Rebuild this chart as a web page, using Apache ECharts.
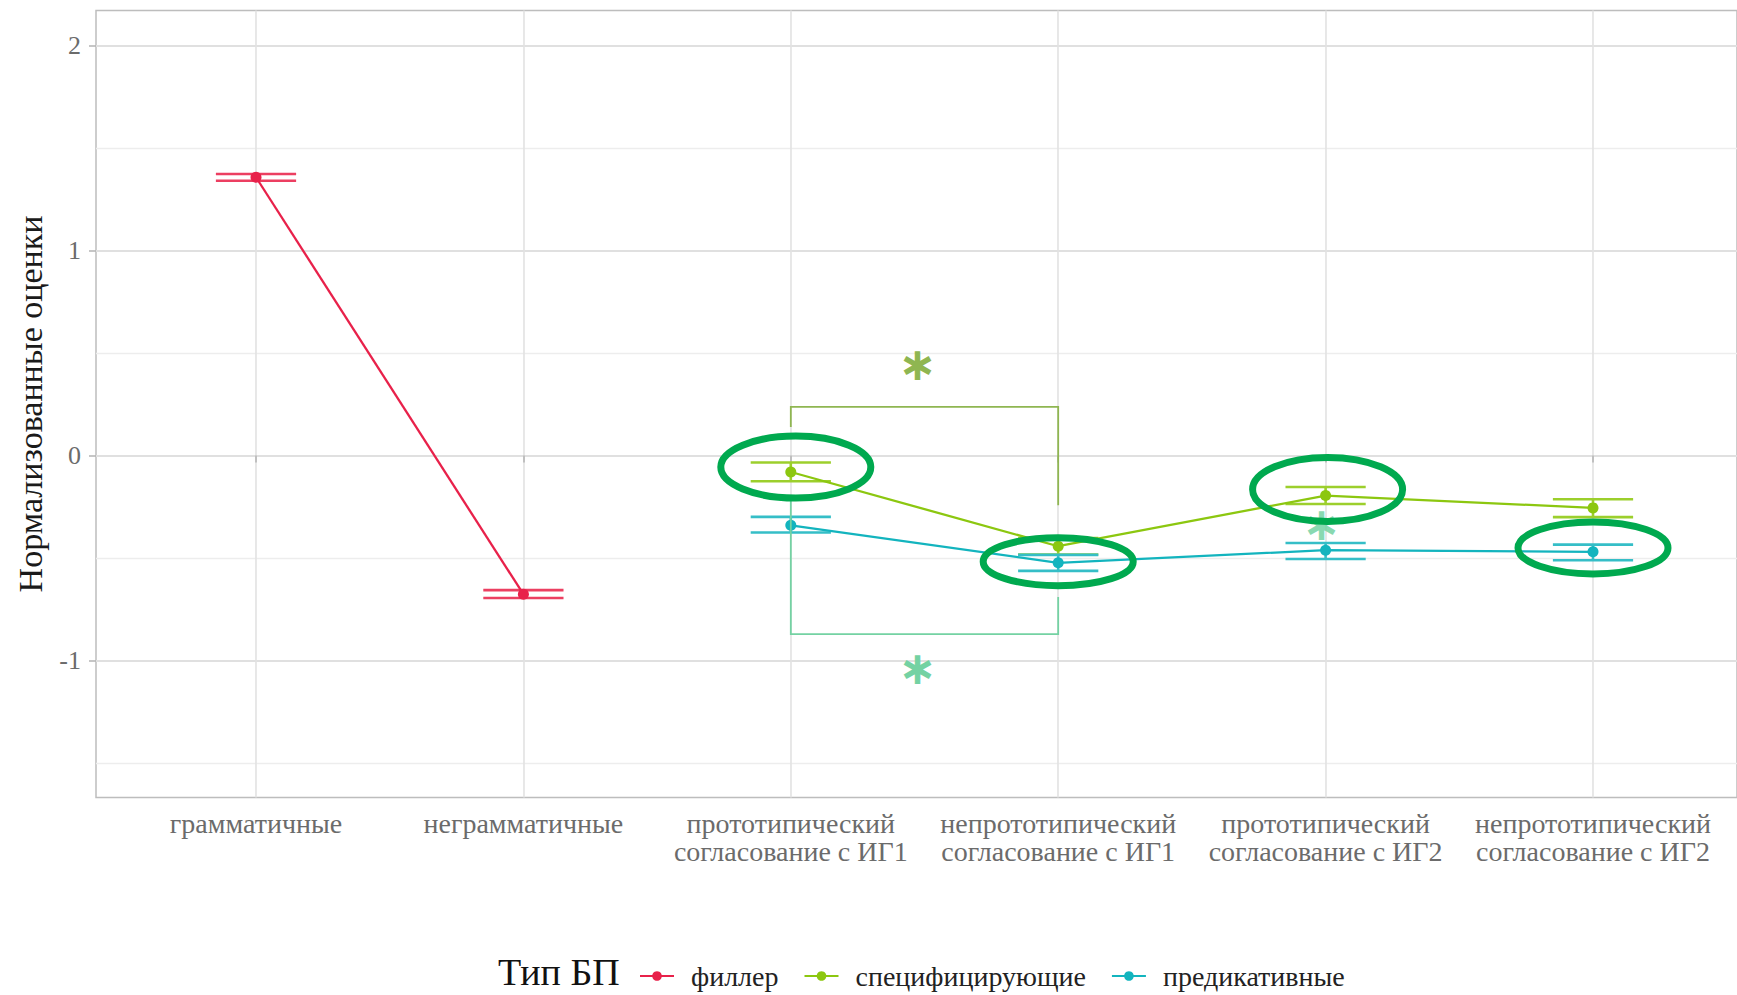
<!DOCTYPE html>
<html>
<head>
<meta charset="utf-8">
<script src="https://cdn.jsdelivr.net/npm/echarts@6/dist/echarts.min.js"></script>
<style>
  html, body { margin: 0; padding: 0; background: #ffffff; }
  #chart { width: 1737px; height: 995px; }
</style>
</head>
<body>
<div id="chart"></div>
<script>
// Conditions on the x axis
const categories = [
  'грамматичные',
  'неграмматичные',
  'прототипический\nсогласование с ИГ1',
  'непрототипический\nсогласование с ИГ1',
  'прототипический\nсогласование с ИГ2',
  'непрототипический\nсогласование с ИГ2'
];

// Sentence types (legend)
const typeNames = ['филлер', 'специфицирующие', 'предикативные'];

// Mean normalised ratings and error-bar bounds per condition
const fillerMean = [1.357, -0.676, null, null, null, null];
const fillerLow  = [1.340, -0.694, null, null, null, null];
const fillerHigh = [1.373, -0.656, null, null, null, null];

const specMean = [null, null, -0.080, -0.442, -0.195, -0.255];
const specLow  = [null, null, -0.125, -0.482, -0.236, -0.300];
const specHigh = [null, null, -0.034, -0.402, -0.153, -0.213];

const predMean = [null, null, -0.340, -0.523, -0.461, -0.469];
const predLow  = [null, null, -0.375, -0.562, -0.504, -0.510];
const predHigh = [null, null, -0.299, -0.484, -0.426, -0.434];

// Y axis ticks
const yMajorTicks = [-1, 0, 1, 2];
const yMinorTicks = [-1.5, -0.5, 0.5, 1.5];
const yLimits = [-1.667, 2.170];

// Significance brackets: [from category, to category, bar level, from-tip end, to-tip end, star level]
const specBracket = [2, 3, 0.237, 0.139, -0.242, 0.445];
const predBracket = [2, 3, -0.870, -0.200, -0.689, -1.036];
// Extra star: [category, level]
const predStar = [4, -0.335];

// Highlighted points: [category, level]
const highlights = [[2, -0.056], [3, -0.517], [4, -0.165], [5, -0.450]];

// ---------------------------------------------------------------------------
const FONT = '"Liberation Serif", "DejaVu Serif", serif';
const COLORS = ['#E8214A', '#8CC710', '#13B4BE'];
const BAR_COLORS = ['#EC3F61', '#9CCF2C', '#35BEC7'];
const SPEC_SIG = '#8FB651';
const PRED_SIG = '#74D2A3';
const RING = '#00A94F';
// ring radii and horizontal nudge in pixels
const RING_RADII = [[75, 31], [75, 24], [75, 32], [75, 26]];
const RING_NUDGE = [5, 0, 2, 0];

function pad(arr) { return arr.map(v => (v == null ? '-' : v)); }

function barData(low, high) {
  const out = [];
  low.forEach((lo, i) => { if (lo != null) out.push([i, lo, high[i]]); });
  return out;
}

function errorbarRenderer(color) {
  return function (params, api) {
    const i = api.value(0);
    const lo = api.coord([i, api.value(1)]);
    const hi = api.coord([i, api.value(2)]);
    const step = api.coord([1, 0])[0] - api.coord([0, 0])[0];
    const hw = step * 0.15;
    const st = { stroke: color, lineWidth: 2.6 };
    return {
      type: 'group',
      children: [
        { type: 'line', shape: { x1: lo[0], y1: lo[1], x2: hi[0], y2: hi[1] }, style: st },
        { type: 'line', shape: { x1: lo[0] - hw, y1: lo[1], x2: lo[0] + hw, y2: lo[1] }, style: st },
        { type: 'line', shape: { x1: hi[0] - hw, y1: hi[1], x2: hi[0] + hw, y2: hi[1] }, style: st }
      ]
    };
  };
}

function bracketRenderer(params, api) {
  const from = api.value(0), to = api.value(1);
  const level = api.value(2), fromEnd = api.value(3), toEnd = api.value(4), star = api.value(5);
  const color = params.dataIndex === 0 ? SPEC_SIG : PRED_SIG;
  const a = api.coord([from, fromEnd]);
  const b = api.coord([from, level]);
  const c = api.coord([to, level]);
  const d = api.coord([to, toEnd]);
  const s = api.coord([from, star]);
  const midX = (b[0] + c[0]) / 2;
  return {
    type: 'group',
    children: [
      { type: 'polyline', shape: { points: [a, b, c, d] }, style: { stroke: color, lineWidth: 1.8, fill: 'none' } },
      { type: 'text', x: midX - 7, y: s[1], style: {
          text: '∗', fill: color, font: 'bold 46px "DejaVu Sans", sans-serif',
          align: 'center', verticalAlign: 'middle' } }
    ]
  };
}

function starRenderer(params, api) {
  const p = api.coord([api.value(0), api.value(1)]);
  return { type: 'text', x: p[0] - 4, y: p[1], style: {
    text: '∗', fill: PRED_SIG, opacity: 0.85, font: 'bold 46px "DejaVu Sans", sans-serif',
    align: 'center', verticalAlign: 'middle' } };
}

function ringRenderer(params, api) {
  const p = api.coord([api.value(0), api.value(1)]);
  const r = RING_RADII[params.dataIndex];
  return { type: 'ellipse', shape: { cx: p[0] + RING_NUDGE[params.dataIndex], cy: p[1], rx: r[0], ry: r[1] },
           style: { fill: 'none', stroke: RING, lineWidth: 7 } };
}

function lineSeries(name, values, idx) {
  return {
    type: 'line', name: name, xAxisIndex: 1, yAxisIndex: 2,
    data: pad(values), symbol: 'circle', symbolSize: 11, z: 4,
    itemStyle: { color: COLORS[idx] },
    lineStyle: { color: COLORS[idx], width: 2.3 },
    connectNulls: false
  };
}

const chart = echarts.init(document.getElementById('chart'), null, { renderer: 'svg' });

const TOP = 10.5, BOTTOM = 197.5;

chart.setOption({
  animation: false,
  backgroundColor: '#ffffff',
  title: {
    text: 'Тип БП', left: 493, top: 948,
    textStyle: { fontFamily: FONT, fontSize: 38, fontWeight: 'normal', color: '#111111' }
  },
  legend: {
    data: typeNames, left: 634, top: 957,
    itemWidth: 34, itemHeight: 12, itemGap: 25,
    textStyle: { fontFamily: FONT, fontSize: 28, color: '#222222', padding: [0, 0, 0, 12] }
  },
  grid: [
    { left: 96, right: -16, top: TOP, bottom: BOTTOM, show: true,
      borderColor: '#BDBDBD', borderWidth: 1.5, backgroundColor: 'transparent' },
    { left: 256, right: 144, top: TOP, bottom: BOTTOM }
  ],
  xAxis: [
    { type: 'value', gridIndex: 0, show: false, min: 0, max: 1 },
    { type: 'category', gridIndex: 1, data: categories, boundaryGap: false,
      axisLine: { show: false },
      axisTick: { show: true, length: 7, lineStyle: { color: '#B3B3B3', width: 1.5 } },
      splitLine: { show: true, lineStyle: { color: '#E2E2E2', width: 1.6 } },
      axisLabel: { interval: 0, margin: 12, fontFamily: FONT, fontSize: 28, lineHeight: 28,
                   color: '#6b6b6b', align: 'center' } }
  ],
  yAxis: [
    { type: 'value', gridIndex: 0, min: yLimits[0], max: yLimits[1],
      name: 'Нормализованные оценки', nameLocation: 'middle', nameGap: 49, nameRotate: 90,
      nameTextStyle: { fontFamily: FONT, fontSize: 34, color: '#1a1a1a' },
      axisLine: { show: false },
      axisTick: { show: true, length: 7, customValues: yMajorTicks, lineStyle: { color: '#B3B3B3', width: 1.5 } },
      axisLabel: { customValues: yMajorTicks, margin: 15, fontFamily: FONT, fontSize: 26, color: '#6b6b6b',
                   formatter: v => String(v) },
      splitLine: { show: true, lineStyle: { color: '#E0E0E0', width: 1.8 } } },
    { type: 'value', gridIndex: 0, min: yLimits[0], max: yLimits[1],
      axisLine: { show: false },
      axisTick: { show: false, customValues: yMinorTicks },
      axisLabel: { show: false, customValues: yMinorTicks },
      splitLine: { show: true, lineStyle: { color: '#EDEDED', width: 1.3 } } },
    { type: 'value', gridIndex: 1, min: yLimits[0], max: yLimits[1], show: false,
      splitLine: { show: false } }
  ],
  series: [
    { type: 'custom', xAxisIndex: 1, yAxisIndex: 2, z: 3, renderItem: errorbarRenderer(BAR_COLORS[0]),
      data: barData(fillerLow, fillerHigh), encode: { x: 0, y: [1, 2] }, silent: true },
    { type: 'custom', xAxisIndex: 1, yAxisIndex: 2, z: 3, renderItem: errorbarRenderer(BAR_COLORS[1]),
      data: barData(specLow, specHigh), encode: { x: 0, y: [1, 2] }, silent: true },
    { type: 'custom', xAxisIndex: 1, yAxisIndex: 2, z: 3, renderItem: errorbarRenderer(BAR_COLORS[2]),
      data: barData(predLow, predHigh), encode: { x: 0, y: [1, 2] }, silent: true },
    lineSeries(typeNames[0], fillerMean, 0),
    lineSeries(typeNames[1], specMean, 1),
    lineSeries(typeNames[2], predMean, 2),
    { type: 'custom', xAxisIndex: 1, yAxisIndex: 2, z: 5, renderItem: bracketRenderer,
      data: [specBracket, predBracket], encode: { x: [0, 1], y: [2, 3, 4, 5] }, silent: true, clip: false },
    { type: 'custom', xAxisIndex: 1, yAxisIndex: 2, z: 5, renderItem: starRenderer,
      data: [predStar], encode: { x: 0, y: 1 }, silent: true, clip: false },
    { type: 'custom', xAxisIndex: 1, yAxisIndex: 2, z: 6, renderItem: ringRenderer,
      data: highlights, encode: { x: 0, y: 1 }, silent: true, clip: false }
  ]
});
</script>
</body>
</html>
